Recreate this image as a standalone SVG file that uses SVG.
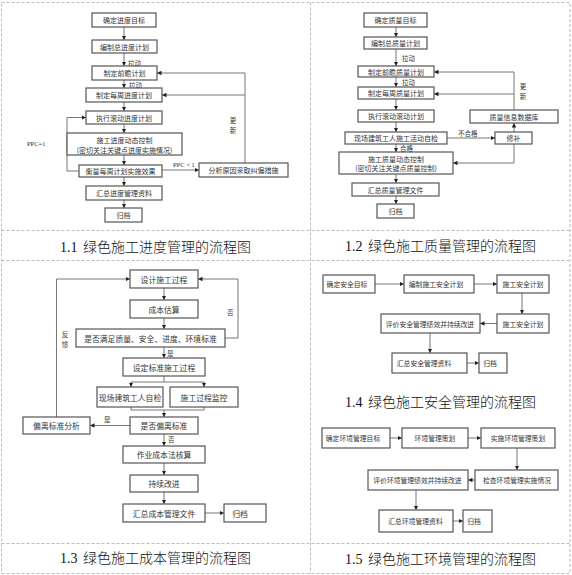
<svg xmlns="http://www.w3.org/2000/svg" width="572" height="575" viewBox="0 0 572 575">
<style>
.b{fill:#fff;stroke:#555;stroke-width:1.2}
.t{font-family:"Noto Sans CJK SC","Noto Sans CJK JP",sans-serif;font-size:7px;fill:#333;text-anchor:middle;dominant-baseline:central}
.t3{font-size:7.8px}
.t4{font-size:6.8px}
.l{font-family:"Noto Sans CJK SC",sans-serif;font-size:6.5px;fill:#333;dominant-baseline:central}
.v{font-family:"Noto Sans CJK SC",sans-serif;font-size:6.5px;fill:#333;dominant-baseline:central;text-anchor:middle}
.p{font-family:"Liberation Serif",serif;font-size:6.5px;fill:#333;dominant-baseline:central}
.c{fill:none;stroke:#777;stroke-width:1}
.a{marker-end:url(#ar)}
.g{fill:none;stroke:#bbb;stroke-width:1;stroke-dasharray:3 2}
.cap{font-family:"Noto Sans CJK SC",sans-serif;font-size:14px;fill:#111;font-weight:300}
.num{font-family:"Liberation Serif",serif;font-size:14px;fill:#111}
</style>
<defs>
<marker id="ar" viewBox="0 0 6 6" refX="6" refY="3" markerWidth="4.5" markerHeight="4.5" markerUnits="userSpaceOnUse" orient="auto"><path d="M0,0L6,3L0,6z" fill="#222"/></marker>
</defs>
<rect width="572" height="575" fill="#fff"/>
<g id="grid">
<rect class="g" x="1.5" y="2.5" width="568.5" height="571"/>
<line class="g" x1="310.5" y1="2.5" x2="310.5" y2="573.5"/>
<line class="g" x1="1.5" y1="230.5" x2="570" y2="230.5"/>
<line class="g" x1="1.5" y1="260.5" x2="570" y2="260.5"/>
<line class="g" x1="1.5" y1="543.5" x2="570" y2="543.5"/>
</g>
<g id="captions">
<text x="60" y="252"><tspan class="num">1.1</tspan><tspan class="cap" x="83">绿色施工进度管理的流程图</tspan></text>
<text x="345" y="251"><tspan class="num">1.2</tspan><tspan class="cap" x="368">绿色施工质量管理的流程图</tspan></text>
<text x="60" y="563"><tspan class="num">1.3</tspan><tspan class="cap" x="83">绿色施工成本管理的流程图</tspan></text>
<text x="345" y="407"><tspan class="num">1.4</tspan><tspan class="cap" x="368">绿色施工安全管理的流程图</tspan></text>
<text x="345" y="564"><tspan class="num">1.5</tspan><tspan class="cap" x="368">绿色施工环境管理的流程图</tspan></text>
</g>
<g id="connectors">
<path class="c a" d="M124,27V40"/>
<path class="c a" d="M124,53V66"/>
<path class="c a" d="M124,80V88"/>
<path class="c a" d="M124,102V111"/>
<path class="c a" d="M124,124V133"/>
<path class="c a" d="M124,155V165"/>
<path class="c a" d="M124,177V186"/>
<path class="c a" d="M124,200V208"/>
<path class="c a" d="M79,171H67V117.5H86"/>
<path class="c a" d="M162,170H199"/>
<path class="c a" d="M245,163V73H157"/>
<path class="c a" d="M245,95H162"/>
<path class="c a" d="M396,27V37"/>
<path class="c a" d="M396,49V66"/>
<path class="c a" d="M396,77V87"/>
<path class="c a" d="M396,99V110"/>
<path class="c a" d="M396,122V132"/>
<path class="c a" d="M396,144V152"/>
<path class="c a" d="M396,174V183"/>
<path class="c a" d="M396,196V204"/>
<path class="c a" d="M447,138H495"/>
<path class="c a" d="M514,144V163H453"/>
<path class="c a" d="M514,132V123"/>
<path class="c a" d="M514,110V72H434"/>
<path class="c a" d="M514,94H434"/>
<path class="c a" d="M164,288V300"/>
<path class="c a" d="M164,318V329"/>
<path class="c a" d="M164,347V358"/>
<path class="c" d="M164,376V382M131,382H204"/>
<path class="c a" d="M131,382V387"/>
<path class="c a" d="M204,382V387"/>
<path class="c" d="M131,407V410H204V407"/>
<path class="c a" d="M164,410V417"/>
<path class="c a" d="M130,425.5H90"/>
<path class="c a" d="M164,434V446"/>
<path class="c a" d="M164,463V475"/>
<path class="c a" d="M164,492V504"/>
<path class="c a" d="M205,513H224"/>
<path class="c a" d="M225,338H238V279H198"/>
<path class="c a" d="M56.5,417V279H130"/>
<path class="c a" d="M375,284H404"/>
<path class="c a" d="M474,284H497"/>
<path class="c a" d="M522,293V314"/>
<path class="c a" d="M497,323.5H480"/>
<path class="c a" d="M430,333V353"/>
<path class="c a" d="M467,363H479"/>
<path class="c a" d="M390,438H402"/>
<path class="c a" d="M468,438H481"/>
<path class="c a" d="M517,448V470"/>
<path class="c a" d="M475,480H468"/>
<path class="c a" d="M416,490V510"/>
<path class="c a" d="M453,521H463"/>
</g>
<g id="labels">
<text class="l" x="128" y="63">拉动</text>
<text class="l" x="129" y="85">拉动</text>
<text class="v" x="233" y="120">更</text>
<text class="v" x="233" y="129.5">新</text>
<text class="p" x="27" y="143">PPC=1</text>
<text class="p" x="173" y="164">PPC＜1</text>
<text class="l" x="402" y="58">拉动</text>
<text class="l" x="402" y="82">拉动</text>
<text class="v" x="523" y="86">更</text>
<text class="v" x="523" y="95.5">新</text>
<text class="l" x="458" y="133">不合格</text>
<text class="l" x="400" y="148">合格</text>
<text class="l" x="167" y="353">是</text>
<text class="l" x="104" y="419">是</text>
<text class="l" x="168" y="439">否</text>
<text class="l" x="227" y="312">否</text>
<text class="v" x="65" y="334">反</text>
<text class="v" x="65" y="343.5">馈</text>
</g>
<g id="n1_1"><rect class="b" x="92" y="13" width="64" height="14"/><text class="t" x="124" y="20">确定进度目标</text></g>
<g id="n1_2"><rect class="b" x="92" y="40" width="65" height="13"/><text class="t" x="124.5" y="46.5">编制总进度计划</text></g>
<g id="n1_3"><rect class="b" x="92" y="66" width="65" height="14"/><text class="t" x="124.5" y="73">制定前瞻计划</text></g>
<g id="n1_4"><rect class="b" x="86" y="88" width="76" height="14"/><text class="t" x="124" y="95">制定每周进度计划</text></g>
<g id="n1_5"><rect class="b" x="86" y="111" width="76" height="13"/><text class="t" x="124" y="117.5">执行滚动进度计划</text></g>
<g id="n1_6"><rect class="b" x="67" y="133" width="115" height="22"/><text class="t" x="124.5" y="140">施工进度动态控制</text><text class="t" x="124.5" y="150">(密切关注关键点进度实施情况)</text></g>
<g id="n1_7"><rect class="b" x="79" y="165" width="83" height="12"/><text class="t" x="120.5" y="171">衡量每周计划实施效果</text></g>
<g id="n1_8"><rect class="b" x="199" y="163" width="89" height="14"/><text class="t" x="243.5" y="170">分析原因采取纠偏措施</text></g>
<g id="n1_9"><rect class="b" x="86" y="186" width="76" height="14"/><text class="t" x="124" y="193">汇总进度管理资料</text></g>
<g id="n1_10"><rect class="b" x="105" y="208" width="37" height="14"/><text class="t" x="123.5" y="215">归档</text></g>
<g id="n2_1"><rect class="b" x="364" y="13" width="63" height="14"/><text class="t" x="395.5" y="20">确定质量目标</text></g>
<g id="n2_2"><rect class="b" x="364" y="37" width="63" height="12"/><text class="t" x="395.5" y="43">编制总质量计划</text></g>
<g id="n2_3"><rect class="b" x="358" y="66" width="76" height="11"/><text class="t" x="396" y="71.5">制定前瞻质量计划</text></g>
<g id="n2_4"><rect class="b" x="358" y="87" width="76" height="12"/><text class="t" x="396" y="93">制定每周质量计划</text></g>
<g id="n2_5"><rect class="b" x="358" y="110" width="76" height="12"/><text class="t" x="396" y="116">执行滚动滚动计划</text></g>
<g id="n2_6"><rect class="b" x="470" y="110" width="88" height="13"/><text class="t" x="514" y="116.5">质量信息数据库</text></g>
<g id="n2_7"><rect class="b" x="345" y="132" width="102" height="12"/><text class="t" x="396" y="138">现场建筑工人施工活动自检</text></g>
<g id="n2_8"><rect class="b" x="495" y="132" width="37" height="12"/><text class="t" x="513.5" y="138">修补</text></g>
<g id="n2_9"><rect class="b" x="339" y="152" width="114" height="22"/><text class="t" x="396" y="158.5">施工质量动态控制</text><text class="t" x="396" y="168">(密切关注关键点质量控制)</text></g>
<g id="n2_10"><rect class="b" x="352" y="183" width="87" height="13"/><text class="t" x="395.5" y="189.5">汇总质量管理文件</text></g>
<g id="n2_11"><rect class="b" x="377" y="204" width="37" height="14"/><text class="t" x="395.5" y="211">归档</text></g>
<g id="n3_1"><rect class="b" x="130" y="270" width="68" height="18"/><text class="t t3" x="164" y="279">设计施工过程</text></g>
<g id="n3_2"><rect class="b" x="130" y="300" width="68" height="18"/><text class="t t3" x="164" y="309">成本估算</text></g>
<g id="n3_3"><rect class="b" x="76" y="329" width="149" height="18"/><text class="t t3" x="150.5" y="338">是否满足质量、安全、进度、环境标准</text></g>
<g id="n3_4"><rect class="b" x="123" y="358" width="82" height="18"/><text class="t t3" x="164" y="367">设定标准施工过程</text></g>
<g id="n3_5"><rect class="b" x="97" y="387" width="66" height="20"/><text class="t t3" x="130" y="397">现场建筑工人自检</text></g>
<g id="n3_6"><rect class="b" x="170" y="387" width="68" height="20"/><text class="t t3" x="204" y="397">施工过程监控</text></g>
<g id="n3_7"><rect class="b" x="23" y="417" width="67" height="17"/><text class="t t3" x="56.5" y="425.5">偏离标准分析</text></g>
<g id="n3_8"><rect class="b" x="130" y="417" width="68" height="17"/><text class="t t3" x="164" y="425.5">是否偏离标准</text></g>
<g id="n3_9"><rect class="b" x="123" y="446" width="82" height="17"/><text class="t t3" x="164" y="454.5">作业成本法核算</text></g>
<g id="n3_10"><rect class="b" x="130" y="475" width="68" height="17"/><text class="t t3" x="164" y="483.5">持续改进</text></g>
<g id="n3_11"><rect class="b" x="123" y="504" width="82" height="18"/><text class="t t3" x="164" y="513">汇总成本管理文件</text></g>
<g id="n3_12"><rect class="b" x="224" y="504" width="42" height="18"/><text class="t t3" x="240" y="513">归档</text></g>
<g id="n4_1"><rect class="b" x="323" y="275" width="52" height="18"/><text class="t t4" x="347" y="284">确定安全目标</text></g>
<g id="n4_2"><rect class="b" x="404" y="275" width="70" height="18"/><text class="t t4" x="436" y="284">编制施工安全计划</text></g>
<g id="n4_3"><rect class="b" x="497" y="275" width="52" height="18"/><text class="t t4" x="523" y="284">施工安全计划</text></g>
<g id="n4_4"><rect class="b" x="497" y="314" width="52" height="19"/><text class="t t4" x="523" y="323.5">施工安全计划</text></g>
<g id="n4_5"><rect class="b" x="381" y="314" width="99" height="19"/><text class="t t4" x="430" y="323.5">评价安全管理绩效并持续改进</text></g>
<g id="n4_6"><rect class="b" x="392" y="353" width="75" height="20"/><text class="t t4" x="424" y="363">汇总安全管理资料</text></g>
<g id="n4_7"><rect class="b" x="479" y="353" width="28" height="20"/><text class="t t4" x="490" y="363">归档</text></g>
<g id="n5_1"><rect class="b" x="322" y="428" width="68" height="20"/><text class="t t4" x="353" y="438">确定环境管理目标</text></g>
<g id="n5_2"><rect class="b" x="402" y="428" width="66" height="20"/><text class="t t4" x="435" y="438">环境管理策划</text></g>
<g id="n5_3"><rect class="b" x="481" y="428" width="74" height="20"/><text class="t t4" x="518" y="438">实施环境管理策划</text></g>
<g id="n5_4"><rect class="b" x="475" y="470" width="83" height="20"/><text class="t t4" x="517" y="480">检查环境管理实施情况</text></g>
<g id="n5_5"><rect class="b" x="368" y="470" width="100" height="20"/><text class="t t4" x="417.5" y="480">评价环境管理绩效并持续改进</text></g>
<g id="n5_6"><rect class="b" x="379" y="510" width="74" height="22"/><text class="t t4" x="415.5" y="521">汇总环境管理资料</text></g>
<g id="n5_7"><rect class="b" x="463" y="510" width="29" height="22"/><text class="t t4" x="474" y="521">归档</text></g>
</svg>
